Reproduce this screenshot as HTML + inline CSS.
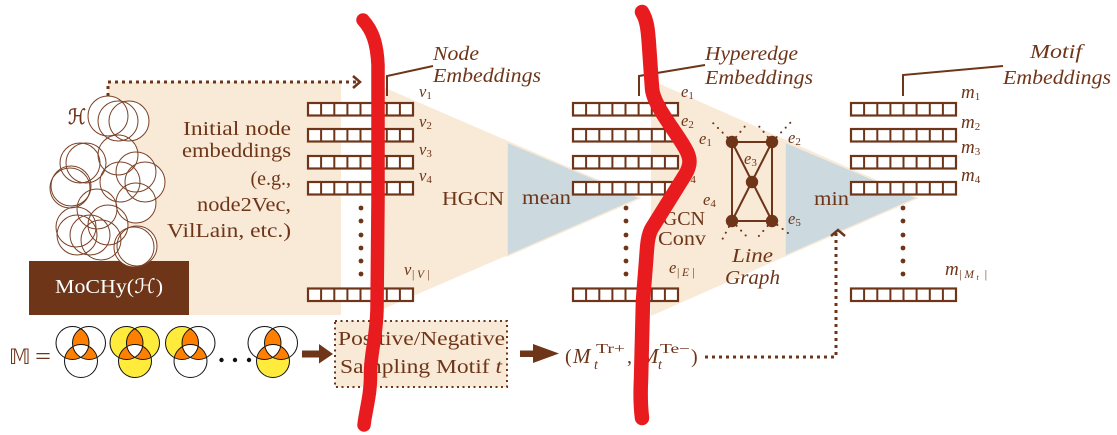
<!DOCTYPE html>
<html><head><meta charset="utf-8"><style>
html,body{margin:0;padding:0;background:#fff}
svg{display:block}
text{font-family:"Liberation Serif","DejaVu Serif",serif;fill:#6e3519}
.t{font-size:20px}
.i{font-size:20px;font-style:italic}
.s{font-size:16.500px;font-style:italic}
.m{font-size:19px;font-style:italic}
.u{font-size:11px;font-style:normal}
.w{font-size:11.500px;letter-spacing:2.500px;font-style:italic}
</style></head><body>
<svg width="1117" height="435" viewBox="0 0 1117 435" xmlns="http://www.w3.org/2000/svg">
<defs>
<g id="row"><rect x="1" y="1" width="105" height="12.5" fill="#fff" stroke="#6e3519" stroke-width="2.200"/>
<path d="M14.1 1V13.5M27.3 1V13.5M40.4 1V13.5M53.5 1V13.5M66.6 1V13.5M79.8 1V13.5M92.9 1V13.5" stroke="#6e3519" stroke-width="2" fill="none"/></g>
<g id="rows"><use href="#row" y="102"/><use href="#row" y="128"/><use href="#row" y="155"/><use href="#row" y="181"/><use href="#row" y="287.500"/></g>
<g id="dots" fill="#6e3519"><circle cy="208" r="2.400"/><circle cy="221" r="2.400"/><circle cy="235" r="2.400"/><circle cy="248" r="2.400"/><circle cy="261" r="2.400"/><circle cy="274" r="2.400"/></g>
<clipPath id="ca"><circle cx="16.5" cy="16.5" r="16.5"/></clipPath>
<clipPath id="cb"><circle cx="33" cy="16.5" r="16.5"/></clipPath>
<clipPath id="cc"><circle cx="25" cy="34.5" r="16.5"/></clipPath>
<g id="venn">
<g clip-path="url(#ca)"><circle cx="33" cy="16.5" r="16.5" fill="#ff8000"/><circle cx="25" cy="34.5" r="16.5" fill="#ff8000"/></g>
<g clip-path="url(#cb)"><circle cx="25" cy="34.5" r="16.5" fill="#ff8000"/></g>
<g clip-path="url(#ca)"><g clip-path="url(#cb)"><circle cx="25" cy="34.5" r="16.5" fill="#fff"/></g></g>
<g fill="none" stroke="#111" stroke-width="1"><circle cx="16.5" cy="16.5" r="16.5"/><circle cx="33" cy="16.5" r="16.5"/><circle cx="25" cy="34.5" r="16.5"/></g>
</g>
</defs>

<!-- beige regions -->
<rect x="108" y="82" width="233" height="233" fill="#f9ead7"/>
<polygon points="376,84 640,198 376,312" fill="#f9ead7"/>
<polygon points="651,80 917,198 651,316" fill="#f9ead7"/>
<polygon points="507,142 640,198 507,256" fill="#ccd9de" stroke="#f9ead7" stroke-width="1.5"/>
<polygon points="785,142 917,198 785,256" fill="#ccd9de" stroke="#f9ead7" stroke-width="1.5"/>

<!-- MoCHy box -->
<rect x="29" y="261" width="160" height="54" fill="#6e3519"/>
<text x="55" y="293" class="t" style="fill:#fff" textLength="108" lengthAdjust="spacingAndGlyphs">MoCHy(&#8459;)</text>

<!-- circle blob -->
<g fill="#fff">
<circle cx="108" cy="116" r="20"/><circle cx="118" cy="121" r="20"/><circle cx="129" cy="121" r="20"/>
<circle cx="118" cy="155" r="20"/><circle cx="86" cy="163" r="20"/><circle cx="80" cy="163" r="20"/><circle cx="70" cy="188" r="20"/><circle cx="71" cy="186" r="20"/>
<circle cx="120" cy="182" r="20"/><circle cx="136" cy="172" r="20"/><circle cx="145" cy="182" r="20"/><circle cx="136" cy="203" r="20"/>
<circle cx="97" cy="209" r="20"/><circle cx="108" cy="225" r="20"/><circle cx="76" cy="227" r="20"/><circle cx="90" cy="235" r="20"/><circle cx="77" cy="235" r="20"/><circle cx="101" cy="240" r="20"/>
<circle cx="137" cy="246" r="20"/><circle cx="134" cy="247" r="20"/>
<rect x="95" y="135" width="30" height="120"/><rect x="100" y="230" width="50" height="30"/>
</g>
<g fill="none" stroke="#7a4228" stroke-width="1">
<circle cx="108" cy="116" r="20"/><circle cx="118" cy="121" r="20"/><circle cx="129" cy="121" r="20"/>
<circle cx="118" cy="155" r="20"/><circle cx="86" cy="163" r="20"/><circle cx="80" cy="163" r="20"/><circle cx="70" cy="188" r="20"/><circle cx="71" cy="186" r="20"/>
<circle cx="120" cy="182" r="20"/><circle cx="136" cy="172" r="20"/><circle cx="145" cy="182" r="20"/><circle cx="136" cy="203" r="20"/>
<circle cx="97" cy="209" r="20"/><circle cx="108" cy="225" r="20"/><circle cx="76" cy="227" r="20"/><circle cx="90" cy="235" r="20"/><circle cx="77" cy="235" r="20"/><circle cx="101" cy="240" r="20"/>
<circle cx="137" cy="246" r="20"/><circle cx="134" cy="247" r="20"/>
</g>
<text x="68" y="124" style="font-size:21px;stroke:#6e3519;stroke-width:.4" textLength="18" lengthAdjust="spacingAndGlyphs">&#8459;</text>

<!-- initial embedding text -->
<text x="183" y="135" class="t" textLength="108" lengthAdjust="spacingAndGlyphs">Initial node</text>
<text x="182" y="157" class="t" textLength="109" lengthAdjust="spacingAndGlyphs">embeddings</text>
<text x="291" y="185" class="t" text-anchor="end">(e.g.,</text>
<text x="197" y="211" class="t" textLength="94" lengthAdjust="spacingAndGlyphs">node2Vec,</text>
<text x="167" y="237" class="t" textLength="124" lengthAdjust="spacingAndGlyphs">VilLain, etc.)</text>

<!-- rows -->
<use href="#rows" x="307"/><use href="#rows" x="572"/><use href="#rows" x="850"/>
<use href="#dots" x="361"/><use href="#dots" x="626"/><use href="#dots" x="903"/>

<!-- leader lines -->
<g fill="none" stroke="#6e3519" stroke-width="2">
<path d="M387 96V76L433 66"/><path d="M639 96V76L705 65"/><path d="M903 96V75L1003 66"/>
</g>
<text x="433" y="60" class="i" textLength="46" lengthAdjust="spacingAndGlyphs">Node</text>
<text x="433" y="82" class="i" textLength="108" lengthAdjust="spacingAndGlyphs">Embeddings</text>
<text x="705" y="60" class="i" textLength="93" lengthAdjust="spacingAndGlyphs">Hyperedge</text>
<text x="705" y="84" class="i" textLength="108" lengthAdjust="spacingAndGlyphs">Embeddings</text>
<text x="1030" y="58" class="i" textLength="52" lengthAdjust="spacingAndGlyphs">Motif</text>
<text x="1003" y="84" class="i" textLength="108" lengthAdjust="spacingAndGlyphs">Embeddings</text>

<!-- sub labels -->
<text x="419" y="97" class="s">v<tspan class="u" dy="2">1</tspan></text>
<text x="419" y="127" class="s">v<tspan class="u" dy="2">2</tspan></text>
<text x="419" y="155" class="s">v<tspan class="u" dy="2">3</tspan></text>
<text x="419" y="181" class="s">v<tspan class="u" dy="2">4</tspan></text>
<text x="404" y="275" class="s">v<tspan class="w" dy="3">|V|</tspan></text>
<text x="681" y="97" class="s">e<tspan class="u" dy="2">1</tspan></text>
<text x="681" y="126" class="s">e<tspan class="u" dy="2">2</tspan></text>
<text x="681" y="155" class="s">e<tspan class="u" dy="2">3</tspan></text>
<text x="683" y="181" class="s">e<tspan class="u" dy="2">4</tspan></text>
<text x="669" y="273" class="s">e<tspan class="w" dy="3">|E|</tspan></text>
<text x="961" y="98" class="m">m<tspan class="u" dy="2">1</tspan></text>
<text x="961" y="128" class="m">m<tspan class="u" dy="2">2</tspan></text>
<text x="961" y="153" class="m">m<tspan class="u" dy="2">3</tspan></text>
<text x="961" y="181" class="m">m<tspan class="u" dy="2">4</tspan></text>
<text x="945" y="275" class="m">m<tspan class="w" dy="3">|M</tspan><tspan style="font-size:8px" dy="2">t</tspan><tspan class="w" dy="-2"> |</tspan></text>

<!-- center labels -->
<text x="442" y="205" class="t" textLength="62" lengthAdjust="spacingAndGlyphs">HGCN</text>
<text x="522" y="204" class="t" textLength="49" lengthAdjust="spacingAndGlyphs">mean</text>
<text x="814" y="205" class="t" textLength="35" lengthAdjust="spacingAndGlyphs">min</text>
<text x="705" y="225" class="t" text-anchor="end">GCN</text>
<text x="658" y="245" class="t" textLength="48" lengthAdjust="spacingAndGlyphs">Conv</text>
<text x="732" y="262" class="i" textLength="41" lengthAdjust="spacingAndGlyphs">Line</text>
<text x="725" y="284" class="i" textLength="55" lengthAdjust="spacingAndGlyphs">Graph</text>

<!-- line graph -->
<g stroke="#6e3519" stroke-width="2" stroke-dasharray="0.1 6.500" stroke-linecap="round" fill="none">
<path d="M732 142L712 122M732 142L746 125M772 142L758 125M772 142L791 122M732 221L722 240M732 221L750 240M772 221L758 237M772 221L788 233"/>
</g>
<g stroke="#6e3519" stroke-width="2" fill="none"><path d="M732 142H772V221H732ZM732 142L772 221M772 142L732 221"/></g>
<g fill="#6e3519"><circle cx="732" cy="142" r="6.200"/><circle cx="772" cy="142" r="6.200"/><circle cx="752" cy="182" r="6.200"/><circle cx="732" cy="221" r="6.200"/><circle cx="772" cy="221" r="6.200"/></g>
<text x="699" y="144" class="s">e<tspan class="u" dy="2">1</tspan></text>
<text x="788" y="143" class="s">e<tspan class="u" dy="2">2</tspan></text>
<text x="744" y="164" class="s">e<tspan class="u" dy="2">3</tspan></text>
<text x="703" y="205" class="s">e<tspan class="u" dy="2">4</tspan></text>
<text x="788" y="224" class="s">e<tspan class="u" dy="2">5</tspan></text>

<!-- dotted arrows -->
<g fill="none" stroke="#6e3519" stroke-width="3">
<path d="M108 96V82H356" stroke-dasharray="3 4"/>
<path d="M353 76L360 82L353 88" stroke-width="2.500"/>
<path d="M705 357H836V232" stroke-dasharray="3 4"/>
<path d="M831 236L838 230L845 236" stroke-width="2.500"/>
</g>

<!-- motifs -->
<text x="9" y="364" style="font-family:'DejaVu Sans',serif;font-size:21px">&#120132;</text>
<text x="35" y="364" style="font-size:24px" textLength="16" lengthAdjust="spacingAndGlyphs">=</text>
<g transform="translate(56,326.500)"><use href="#venn"/></g>
<g transform="translate(110,326.500)">
<circle cx="16.5" cy="16.5" r="16.5" fill="#ffeb3b"/><circle cx="33" cy="16.5" r="16.5" fill="#ffeb3b"/><circle cx="25" cy="34.5" r="16.5" fill="#ffeb3b"/><use href="#venn"/></g>
<g transform="translate(165.500,326.500)"><circle cx="16.5" cy="16.5" r="16.5" fill="#ffeb3b"/><use href="#venn"/></g>
<g transform="translate(248,326.500)"><circle cx="25" cy="34.5" r="16.5" fill="#ffeb3b"/><use href="#venn"/></g>
<g fill="#111"><circle cx="221.500" cy="360" r="2.200"/><circle cx="235" cy="360" r="2.200"/><circle cx="249" cy="360" r="2.200"/></g>

<!-- brown arrows -->
<g fill="#6e3519">
<path d="M302 350.500H319V344L333 354L319 363.500V357.500H302Z"/>
<path d="M520 350.500H533V344L559 353.500L533 363V357H520Z"/>
</g>

<!-- sampling box -->
<rect x="335" y="321" width="172" height="66" fill="#f9ead7" stroke="#6e3519" stroke-width="2" stroke-dasharray="2 3.500"/>
<text x="338" y="345" class="t" textLength="167" lengthAdjust="spacingAndGlyphs">Positive/Negative</text>
<text x="340" y="373" class="t" textLength="162" lengthAdjust="spacingAndGlyphs">Sampling Motif <tspan font-style="italic">t</tspan></text>

<!-- formula -->
<text x="565" y="363" class="t">(</text>
<text x="573" y="363" style="font-size:21px;font-style:italic">M</text>
<text x="596" y="353" style="font-size:14px" textLength="29" lengthAdjust="spacingAndGlyphs">Tr+</text>
<text x="594" y="369" style="font-size:14px;font-style:italic">t</text>
<text x="627" y="363" class="t">,</text>
<text x="641" y="363" style="font-size:21px;font-style:italic">M</text>
<text x="660" y="353" style="font-size:14px" textLength="30" lengthAdjust="spacingAndGlyphs">Te&#8722;</text>
<text x="658" y="369" style="font-size:14px;font-style:italic">t</text>
<text x="691" y="363" class="t">)</text>

<!-- red marker strokes -->
<g fill="none" stroke="#e81c1f" stroke-linecap="round" stroke-linejoin="round">
<path stroke-width="13.500" d="M363 20C372 30 377 42 378 65L378 200L377 310C376 340 371 350 370.500 372C371 395 366 408 364 425"/>
<path stroke-width="14.500" d="M642 12C647 20 648 30 649 45L652 88C653 105 675 130 685 148C691 158 691 165 685 175L652 228C647 236 647 250 646 262L643 300L641 380C640 400 641 410 642 418"/>
</g>
</svg>
</body></html>
